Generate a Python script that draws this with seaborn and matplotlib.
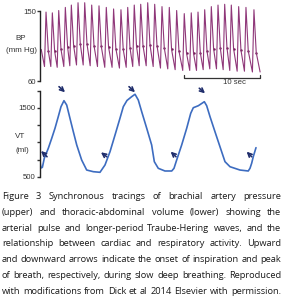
import numpy as np
import pandas as pd
import matplotlib
matplotlib.use("Agg")
import matplotlib.pyplot as plt
import seaborn as sns

# -----------------------------------
# DATA
# -----------------------------------

# brachial artery pressure, one entry per beat
bp_peak_t = [0.53, 1.36, 2.20, 3.07, 3.86, 4.74, 5.62, 6.54, 7.50, 8.46, 9.42,
             10.39, 11.28, 12.14, 12.99, 13.91, 14.83, 15.79, 16.75, 17.72,
             18.72, 19.64, 20.53, 21.41, 22.28, 23.16, 24.04, 24.91, 25.88,
             26.84, 27.89]
bp_peak = [149, 148, 151, 155, 158, 161, 161, 158, 157, 155, 153, 152, 155,
           158, 159, 161, 159, 156, 155, 151, 147, 148, 149, 152, 156, 158,
           159, 158, 156, 155, 152]
bp_notch = [99, 99, 101, 104, 106, 108, 108, 106, 105, 104, 102, 101, 103,
            105, 106, 107, 106, 103, 101, 99, 96, 96, 97, 99, 102, 103, 103,
            102, 100, 99, 97]
bp_trough = [79, 79, 78, 79, 80, 81, 81, 80, 79, 78, 78, 77, 78, 79, 80, 80,
             79, 77, 76, 75, 74, 74, 74, 75, 76, 76, 75, 74, 73, 73, 72]
bp_start = (-0.1, 101)
bp_end = (28.7, 72)

# thoracic-abdominal volume trace
vt_t = [-0.26, -0.15, 0.05, 0.30, 0.83, 1.28, 1.71, 2.14, 2.50, 2.89, 3.25,
        3.68, 4.12, 4.57, 5.22, 5.88, 6.75, 7.63, 8.29, 8.95, 9.61, 10.26,
        10.70, 11.18, 11.80, 12.24, 12.67, 13.12, 13.78, 14.43, 14.78, 15.30,
        16.18, 17.07, 17.37, 17.72, 18.38, 19.04, 19.57, 19.91, 20.57, 21.36,
        21.67, 22.11, 22.76, 23.42, 24.08, 24.74, 26.05, 27.14, 27.37, 27.59,
        27.80, 28.16]
vt_v = [720, 630, 640, 771, 916, 1061, 1206, 1374, 1519, 1606, 1543, 1351,
        1157, 964, 746, 601, 577, 568, 674, 867, 1109, 1351, 1519, 1609, 1664,
        1699, 1616, 1446, 1206, 964, 722, 626, 587, 587, 626, 746, 964, 1206,
        1423, 1504, 1533, 1591, 1533, 1374, 1157, 939, 722, 649, 601, 587, 626,
        699, 794, 925]

# arrows: peak of breath (down) and onset of inspiration (up)
down_head = [(3.03, 1728), (12.24, 1728), (21.45, 1713)]
down_tail = [(2.24, 1809), (11.45, 1809), (20.70, 1786)]
up_head = [(-0.13, 877), (7.76, 858), (16.93, 867), (26.93, 867)]
up_tail = [(0.66, 794), (8.51, 794), (17.63, 794), (27.59, 794)]

bp_ticks = [60, 150]
vt_ticks = [500, 750, 1000, 1250, 1500, 1750]
vt_ticklabels = ["500", "", "", "", "1500", ""]

scale_start = 18.68
scale_len = 10

caption = [
    "Figure 3 Synchronous tracings of brachial artery pressure",
    "(upper) and thoracic-abdominal volume (lower) showing the",
    "arterial pulse and longer-period Traube-Hering waves, and the",
    "relationship between cardiac and respiratory activity. Upward",
    "and downward arrows indicate the onset of inspiration and peak",
    "of breath, respectively, during slow deep breathing. Reproduced",
    "with modifications from Dick et al 2014 Elsevier with permission.",
]

# -----------------------------------
# BUILD TRACES
# -----------------------------------

t_pts, p_pts = [bp_start[0]], [bp_start[1]]
for t, pk, nt, tr in zip(bp_peak_t, bp_peak, bp_notch, bp_trough):
    t_pts += [t - 0.2, t, t + 0.3]
    p_pts += [tr, pk, nt]
t_pts.append(bp_end[0])
p_pts.append(bp_end[1])
bp_df = pd.DataFrame({"t": t_pts, "bp": p_pts})
notch_df = pd.DataFrame({"t": [t + 0.3 for t in bp_peak_t], "bp": bp_notch})
vt_df = pd.DataFrame({"t": vt_t, "vt": vt_v})

# -----------------------------------
# FIGURE
# -----------------------------------

sns.set_style("ticks")
plt.rcParams["font.family"] = ["Liberation Sans", "DejaVu Sans"]

W, H = 283, 300
fig = plt.figure(figsize=(W / 100, H / 100), dpi=100)

def px_axes(x0, y0, x1, y1):
    return fig.add_axes([x0 / W, 1 - y1 / H, (x1 - x0) / W, (y1 - y0) / H])

ax1 = px_axes(40, 0, 262, 86)
ax2 = px_axes(40, 86, 262, 180)
for ax in (ax1, ax2):
    ax.set_facecolor("none")
    ax.set_xlim(-0.263, 28.95)
    for s in ("top", "right", "bottom"):
        ax.spines[s].set_visible(False)
    ax.spines["left"].set_color("#222222")
    ax.spines["left"].set_linewidth(1.0)
    ax.set_xticks([])
    ax.tick_params(axis="y", direction="out", length=2, width=1, pad=1,
                   labelsize=5.6, colors="#333333")

# upper: blood pressure
sns.lineplot(data=bp_df, x="t", y="bp", ax=ax1, color="#8f3779", lw=0.8,
             estimator=None, sort=False)
sns.scatterplot(data=notch_df, x="t", y="bp", ax=ax1, color="#6e1752",
                s=3, linewidth=0)
ax1.set_ylim(54, 164.5)
ax1.spines["left"].set_bounds(60, 150)
ax1.set_yticks(bp_ticks)
ax1.set_xlabel("")
ax1.set_ylabel("")

# 10 sec scale bar
ax1.plot([scale_start, scale_start, scale_start + scale_len, scale_start + scale_len],
         [67.5, 64.6, 64.6, 67.5], color="#333333", lw=0.9)
ax1.text(scale_start + 6.7, 59, "10 sec", fontsize=5.6, color="#333333",
         ha="center", va="center")

# lower: volume
sns.lineplot(data=vt_df, x="t", y="vt", ax=ax2, color="#3d6cc0", lw=1.2,
             estimator=None, sort=False)
ax2.set_ylim(456.5, 1818.8)
ax2.spines["left"].set_bounds(500, 1750)
ax2.set_yticks(vt_ticks)
ax2.set_yticklabels(vt_ticklabels)
ax2.set_xlabel("")
ax2.set_ylabel("")

for heads, tails in ((down_head, down_tail), (up_head, up_tail)):
    for h, tl in zip(heads, tails):
        ax2.annotate("", xy=h, xytext=tl, annotation_clip=False,
                     arrowprops=dict(arrowstyle="->", color="#1f2d6b", lw=1.2,
                                     mutation_scale=7, shrinkA=0, shrinkB=0))

# axis labels
lab = dict(fontsize=5.8, color="#333333", ha="center", va="center")
fig.text(21 / W, 1 - 38 / H, "BP", **lab)
fig.text(22 / W, 1 - 51 / H, "(mm Hg)", **lab)
fig.text(20 / W, 1 - 137 / H, "VT", **lab)
fig.text(22 / W, 1 - 150 / H, "(ml)", **lab)

# -----------------------------------
# JUSTIFIED CAPTION
# -----------------------------------

cap_font = "Open Sans"
x_left, x_right = 2, 281
target = x_right - x_left
baselines = [199, 214.8, 230.6, 246.4, 262.2, 278, 293.8]
rend = fig.canvas.get_renderer()

def tw(s, size):
    t = fig.text(0, 0, s, fontsize=size, family=cap_font)
    w = t.get_window_extent(rend).width
    t.remove()
    return w

def natural(s, size):
    # measured width minus the constant padding a single text carries
    pad = 2 * tw("i", size) - tw("ii", size)
    return tw(s, size) - pad, pad

nat10 = max(natural(line, 10)[0] for line in caption)
cap_size = 10 * target / nat10

for line, yb in zip(caption, baselines):
    words = line.split(" ")
    full, pad = natural(line, cap_size)
    extra = (target - full) / (len(words) - 1)
    for k, w in enumerate(words):
        prefix = " ".join(words[:k + 1])
        start = (tw(prefix, cap_size) - tw(w, cap_size))
        fig.text((x_left + start + k * extra) / W, 1 - yb / H, w,
                 fontsize=cap_size, family=cap_font, color="#1a1a1a",
                 ha="left", va="baseline")

fig.savefig("out.png", dpi=100)
